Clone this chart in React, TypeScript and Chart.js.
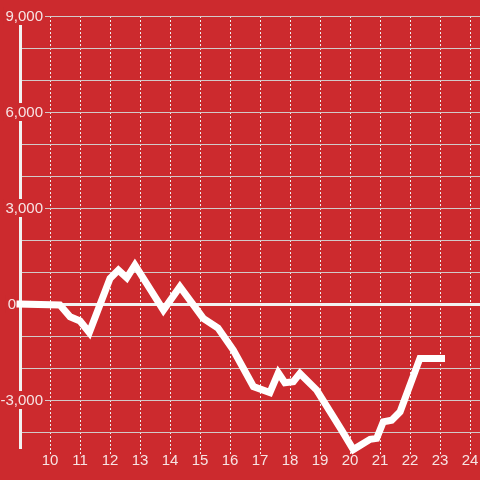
import React, { useEffect, useRef } from "react";
import { Chart, registerables } from "chart.js";

Chart.register(...registerables);

// Data (x = hour of day, y = value)
const hours: number[] = [
  9.0, 10.33, 10.67, 11.0, 11.31, 12.0, 12.28, 12.56, 12.83, 13.78, 14.33,
  15.11, 15.6, 16.11, 16.78, 17.33, 17.61, 17.83, 18.11, 18.33, 18.89, 19.44,
  19.72, 20.11, 20.67, 20.89, 21.11, 21.39, 21.67, 22.33, 23.05,
];
const values: number[] = [
  0, -30, -400, -530, -890, 800, 1060, 820, 1220, -190, 540, -450, -750, -1440,
  -2580, -2770, -2150, -2460, -2430, -2170, -2690, -3520, -3940, -4550, -4230,
  -4200, -3680, -3630, -3370, -1700, -1700,
];
const xTickValues: number[] = [10, 11, 12, 13, 14, 15, 16, 17, 18, 19, 20, 21, 22, 23, 24];
const yLabelValues: number[] = [-3000, 0, 3000, 6000, 9000];

const BG = "rgb(204, 42, 46)";
const LABEL_COLOR = "#f7e4e4";
const FONT_FAMILY = '"Liberation Sans", Arial, sans-serif';

function fmt(v: number): string {
  const s = Math.abs(v).toString().replace(/\B(?=(\d{3})+(?!\d))/g, ",");
  return (v < 0 ? "-" : "") + s;
}

const yLabelPlugin = {
  id: "yLabels",
  beforeDatasetsDraw(chart: any) {
    const ctx = chart.ctx;
    const scale = chart.scales.y;
    ctx.save();
    ctx.font = `15px ${FONT_FAMILY}`;
    ctx.textAlign = "right";
    ctx.textBaseline = "middle";
    for (const v of yLabelValues) {
      const y = scale.getPixelForValue(v);
      const text = fmt(v);
      const w = ctx.measureText(text).width;
      const xr = v === 0 ? 16 : 43;
      ctx.fillStyle = BG;
      ctx.fillRect(xr - w - 2, y - 9, w + 4, 18);
      ctx.fillStyle = LABEL_COLOR;
      ctx.fillText(text, xr, y + 1);
    }
    ctx.restore();
  },
};

export default function App() {
  const ref = useRef<HTMLCanvasElement | null>(null);
  useEffect(() => {
    if (!ref.current) return;
    const points = hours.map((h, i) => ({ x: h, y: values[i] }));
    const chart = new Chart(ref.current, {
      type: "line",
      data: {
        datasets: [
          {
            data: points,
            borderColor: "#ffffff",
            borderWidth: 7,
            borderCapStyle: "square",
            borderJoinStyle: "miter",
            pointRadius: 0,
            tension: 0,
            clip: false,
          } as any,
        ],
      },
      options: {
        animation: false,
        responsive: false,
        maintainAspectRatio: false,
        layout: { padding: { left: 20, top: 16, right: 0, bottom: 14 } },
        plugins: { legend: { display: false }, tooltip: { enabled: false } },
        scales: {
          x: {
            type: "linear",
            min: 9,
            max: 24.333,
            afterBuildTicks: (scale: any) => {
              scale.ticks = xTickValues.map((v) => ({ value: v }));
            },
            grid: {
              color: "#eeeeee",
              lineWidth: 1,
              drawTicks: true,
              tickLength: 8,
              tickColor: "#eeeeee",
              tickBorderDash: [2, 2],
            },
            border: { display: false, dash: [2, 2] },
            ticks: {
              color: LABEL_COLOR,
              font: { family: FONT_FAMILY, size: 15 },
              padding: -4,
              maxRotation: 0,
              autoSkip: false,
              callback: (v: any) => String(v),
            },
          },
          y: {
            type: "linear",
            min: -4500,
            max: 9000,
            afterBuildTicks: (scale: any) => {
              const t: any[] = [];
              for (let v = -4000; v <= 9000; v += 1000) t.push({ value: v });
              scale.ticks = t;
            },
            grid: {
              color: (c: any) => (c.tick && c.tick.value === 0 ? "#f2f2f2" : "#d2c9c9"),
              lineWidth: (c: any) => (c.tick && c.tick.value === 0 ? 3 : 1),
              drawTicks: false,
            },
            border: { display: true, color: "#f2f2f2", width: 3 },
            ticks: { display: false },
          },
        },
      },
      plugins: [yLabelPlugin],
    });
    return () => chart.destroy();
  }, []);

  return (
    <div
      style={{
        position: "fixed",
        left: 0,
        top: 0,
        width: 480,
        height: 480,
        background: BG,
      }}
    >
      <canvas ref={ref} width={480} height={480} style={{ display: "block" }} />
    </div>
  );
}
